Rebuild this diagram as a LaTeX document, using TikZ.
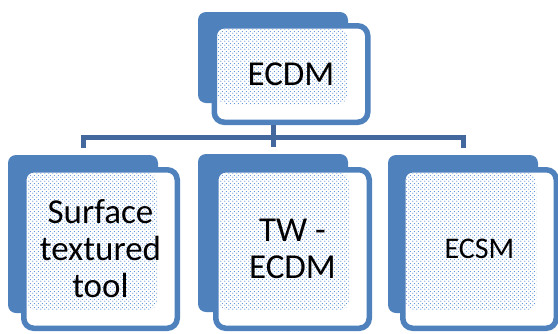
\documentclass[tikz,border=0pt]{standalone}
\usepackage{fontspec}
\setmainfont{Carlito}
\usetikzlibrary{patterns}
\definecolor{boxblue}{RGB}{79,129,189}
\definecolor{linkblue}{RGB}{66,104,158}
\definecolor{dotblue}{RGB}{90,140,210}
\pgfdeclarepatterninherentlycolored{stagdots}{\pgfpoint{0pt}{0pt}}{\pgfpoint{4pt}{4pt}}{\pgfpoint{4pt}{4pt}}{%
  \pgfsetfillcolor{dotblue}%
  \pgfpathcircle{\pgfpoint{1pt}{1pt}}{0.7pt}%
  \pgfpathcircle{\pgfpoint{3pt}{3pt}}{0.7pt}%
  \pgfusepath{fill}}
\tikzset{
  backbox/.style={draw=none, fill=boxblue, rounded corners=8pt, minimum width=150pt, inner sep=0pt},
  frontbox/.style={draw=boxblue, line width=5.5pt, fill=white, rounded corners=10pt, inner sep=0pt,
     minimum width=153.5pt, align=center,
     path picture={\fill[pattern=stagdots]
       ([shift={(3pt,-3pt)}]path picture bounding box.north west) rectangle
       ([shift={(-20pt,18pt)}]path picture bounding box.south east);}},
  conn/.style={draw=linkblue, line width=5pt},
  bigtext/.style={font=\fontsize{35}{37}\selectfont},
  smalltext/.style={font=\fontsize{30}{32}\selectfont}
}
\begin{document}
\begin{tikzpicture}[x=1pt,y=-1pt]
\useasboundingbox (0,0) rectangle (558,333);
% back boxes
\node[backbox, minimum height=91pt] (bk0) at (273,57.5) {};
\node[backbox, minimum height=158pt] (bk1) at (83,234) {};
\node[backbox, minimum height=158pt] (bk2) at (273,233) {};
\node[backbox, minimum height=158pt] (bk3) at (463,234) {};
% connectors
\coordinate (bar) at (0,137.5);
\draw[conn] (bk0.south) -- (bk0.south |- bar);
\draw[conn] ([yshift=7pt]bk1.north) -- (bk1.north |- bar) -- (bk3.north |- bar) -- ([yshift=7pt]bk3.north);
\draw[conn] (bk2.north |- bar) -- ([yshift=7pt]bk2.north);
% front boxes
\node[frontbox, bigtext, minimum height=96.5pt] (fr0) at (291,74) {ECDM};
\node[frontbox, bigtext, minimum height=158.5pt] (fr1) at (100.5,249) {Surface\\textured\\tool};
\node[frontbox, bigtext, minimum height=158.5pt] (fr2) at (292.5,249) {TW -\\ECDM};
\node[frontbox, smalltext, minimum height=158.5pt] (fr3) at (479.5,249) {ECSM};
\end{tikzpicture}
\end{document}
